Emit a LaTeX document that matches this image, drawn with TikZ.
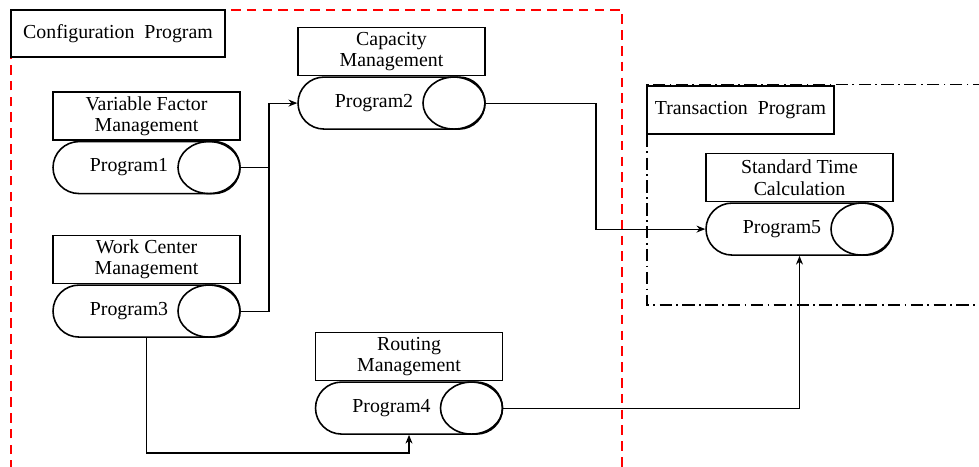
\documentclass[tikz,border=0pt]{standalone}
\usepackage{fontspec}
\setmainfont{Liberation Serif}
\usetikzlibrary{arrows.meta}
\usetikzlibrary{shapes.misc,shapes.geometric}
\usetikzlibrary{positioning}

\tikzset{
    titlebox/.style={draw, line width=0.9pt, minimum width=3.74cm, minimum height=0.96cm, inner sep=1pt, align=center},
    capsule/.style={draw, line width=0.9pt, rounded rectangle, minimum width=3.74cm, minimum height=1.04cm, inner sep=0pt},
    knob/.style={draw, line width=0.9pt, ellipse, minimum width=1.24cm, minimum height=1.04cm, inner sep=0pt, anchor=east},
    groupbox/.style={draw, fill=white, line width=0.9pt, minimum height=0.95cm, inner sep=2pt},
    link/.style={line width=0.6pt, -{Stealth[length=5pt, width=4pt]}},
    plainlink/.style={line width=0.6pt}
}

\begin{document}
\begin{tikzpicture}[x=0.02cm, y=-0.02cm, font=\fontsize{11.3}{12.2}\selectfont]
    \useasboundingbox (0, 0) rectangle (979, 466);

        % Group frames
        \draw[red, line width=1.1pt, dash pattern=on 5.5pt off 3.5pt] (11, 470) -- (11, 10) -- (622, 10) -- (622, 470);
        \draw[line width=0.9pt, dash pattern=on 7pt off 2.5pt on 1pt off 2.5pt] (985, 84.5) -- (647, 84.5) -- (647, 305) -- (985, 305);
        \node[groupbox, minimum width=4.28cm] at (118, 33.5) (conf) {Configuration\ \ Program};
        \node[groupbox, minimum width=3.74cm] at (740.5, 110) (trans) {Transaction\ \ Program};

        % Declare the programs
        \node[titlebox] at (146.5, 116) (t1) {Variable Factor\\Management};
        \node[capsule, below=0pt of t1] (p1) {};
        \node[knob] at (p1.east) (k1) {};
        \node at ([xshift=-0.35cm]p1.center) (n1) {Program1};

        \node[titlebox] at (391.5, 51.5) (t2) {Capacity\\Management};
        \node[capsule, below=0pt of t2] (p2) {};
        \node[knob] at (p2.east) (k2) {};
        \node at ([xshift=-0.35cm]p2.center) (n2) {Program2};

        \node[titlebox] at (146.5, 259.5) (t3) {Work Center\\Management};
        \node[capsule, below=0pt of t3] (p3) {};
        \node[knob] at (p3.east) (k3) {};
        \node at ([xshift=-0.35cm]p3.center) (n3) {Program3};

        \node[titlebox] at (409, 356.5) (t4) {Routing\\Management};
        \node[capsule, below=0pt of t4] (p4) {};
        \node[knob] at (p4.east) (k4) {};
        \node at ([xshift=-0.35cm]p4.center) (n4) {Program4};

        \node[titlebox] at (799.5, 177.5) (t5) {Standard Time\\Calculation};
        \node[capsule, below=0pt of t5] (p5) {};
        \node[knob] at (p5.east) (k5) {};
        \node at ([xshift=-0.35cm]p5.center) (n5) {Program5};

        % Declare edges
        \coordinate (j1) at (269, 0);
        \coordinate (j2) at (596, 0);
        \coordinate (j3) at (0, 453);
        \draw[plainlink] (k1.east) -| (j1 |- p2.west);
        \draw[link] (k3.east) -| (j1 |- p2.west) -- (p2.west);
        \draw[link] (k2.east) -| (j2 |- p5.west) -- (p5.west);
        \draw[link] (p3.south) -- (p3.south |- j3) -| (p4.south);
        \draw[link] (k4.east) -| (p5.south);

    \end{tikzpicture}
\end{document}
